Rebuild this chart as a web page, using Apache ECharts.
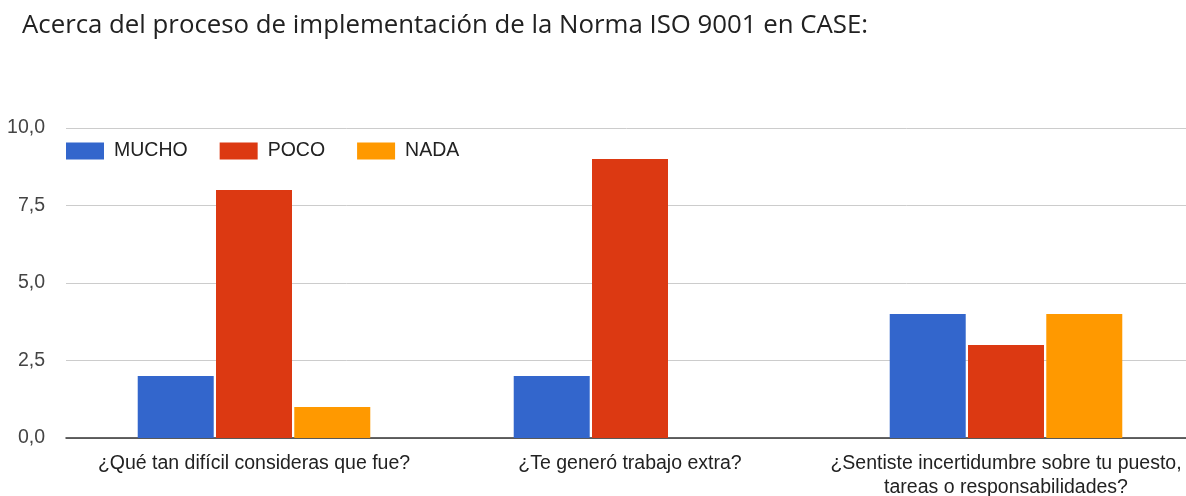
<!DOCTYPE html>
<html><head><meta charset="utf-8">
<script src="https://cdn.jsdelivr.net/npm/echarts@6/dist/echarts.min.js"></script>
<style>html,body{margin:0;padding:0;background:#fff}#c{width:1186px;height:496px}</style>
</head><body><div id="c"></div>
<script>
const titleText = 'Acerca del proceso de implementación de la Norma ISO 9001 en CASE:';
const categories = ['¿Qué tan difícil consideras que fue?', '¿Te generó trabajo extra?', '¿Sentiste incertidumbre sobre tu puesto,\ntareas o responsabilidades?'];
const seriesNames = ['MUCHO', 'POCO', 'NADA'];
const mucho = [2, 2, 4];
const poco = [8, 9, 3];
const nada = [1, 0, 4];
const colors = ['#3366cc', '#dc3912', '#ff9900'];

const chart = echarts.init(document.getElementById('c'));
const font = '"Liberation Sans", Arial, sans-serif';
chart.setOption({
  animation: false,
  color: colors,
  title: {text: titleText, left: 22, top: 13, padding: 0,
    textStyle: {fontFamily: '"Open Sans", sans-serif', fontSize: 25.8, fontWeight: 'normal', color: '#212121'}},
  legend: {left: 66, top: 141, padding: 0, itemWidth: 38, itemHeight: 17, itemGap: 32, icon: 'rect',
    textStyle: {fontFamily: font, fontSize: 19.5, color: '#222', padding: [0, 0, 0, 5]}, data: seriesNames},
  grid: {left: 66, top: 128, width: 1128, height: 310, containLabel: false, outerBoundsMode: 'none'},
  xAxis: {type: 'category', data: categories,
    axisLine: {lineStyle: {color: '#333', width: 1.5}}, axisTick: {show: false},
    axisLabel: {fontFamily: font, fontSize: 19.5, color: '#222', margin: 14, lineHeight: 24, interval: 0}},
  yAxis: {type: 'value', min: 0, max: 10, interval: 2.5,
    axisLine: {show: false}, axisTick: {show: false},
    splitLine: {lineStyle: {color: '#cccccc', width: 1}},
    axisLabel: {fontFamily: font, fontSize: 19.5, color: '#444', margin: 21,
      formatter: v => v.toFixed(1).replace('.', ',')}},
  series: [
    {name: seriesNames[0], type: 'bar', data: mucho, barWidth: 76, barGap: '3%'},
    {name: seriesNames[1], type: 'bar', data: poco, barWidth: 76, barGap: '3%'},
    {name: seriesNames[2], type: 'bar', data: nada, barWidth: 76, barGap: '3%'}
  ]
});
</script></body></html>
